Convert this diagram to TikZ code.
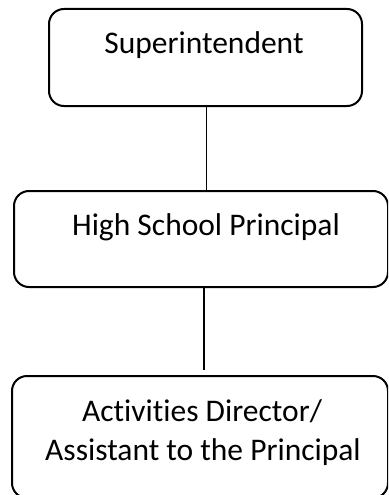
\documentclass[tikz,border=0pt]{standalone}
\usepackage{fontspec}
\setmainfont{Carlito}[Ligatures=NoCommon]
\usetikzlibrary{calc}
\begin{document}
\begin{tikzpicture}[x=1pt,y=-1pt,
  post/.style={draw=black, line width=2pt, rounded corners=15pt,
    anchor=north west, inner sep=0pt, rectangle},
  title/.style={font=\fontsize{31.5}{38}\selectfont, anchor=base, inner sep=0pt},
  link/.style={draw=black, line width=1.6pt}]
\useasboundingbox (0,0) rectangle (388,495);
\begin{scope}
\clip (0,0) rectangle (388,495);
% boxes of the chart
\node[post, minimum width=313pt, minimum height=97pt] (sup) at (48,8) {};
\node[post, minimum width=374pt, minimum height=96pt] (hsp) at (13,190) {};
\node[post, minimum width=376pt, minimum height=122pt] (act) at (11,375) {};
% titles
\node[title] (tsup) at (204,54) {Superintendent};
\node[title] (thsp) at (206,235) {High School Principal};
\node[title] (tact1) at (202,421) {Activities Director/};
\node[title] (tact2) at (203,460) {Assistant to the Principal};
% reporting lines
\draw[link] ($(sup.south)+(1,0)$) -- ($(sup.south |- hsp.north)+(1,0)$);
\draw[link] ($(hsp.south)+(3,0)$) -- ($(hsp.south |- act.north)+(3,-5)$);
\end{scope}
\end{tikzpicture}
\end{document}
